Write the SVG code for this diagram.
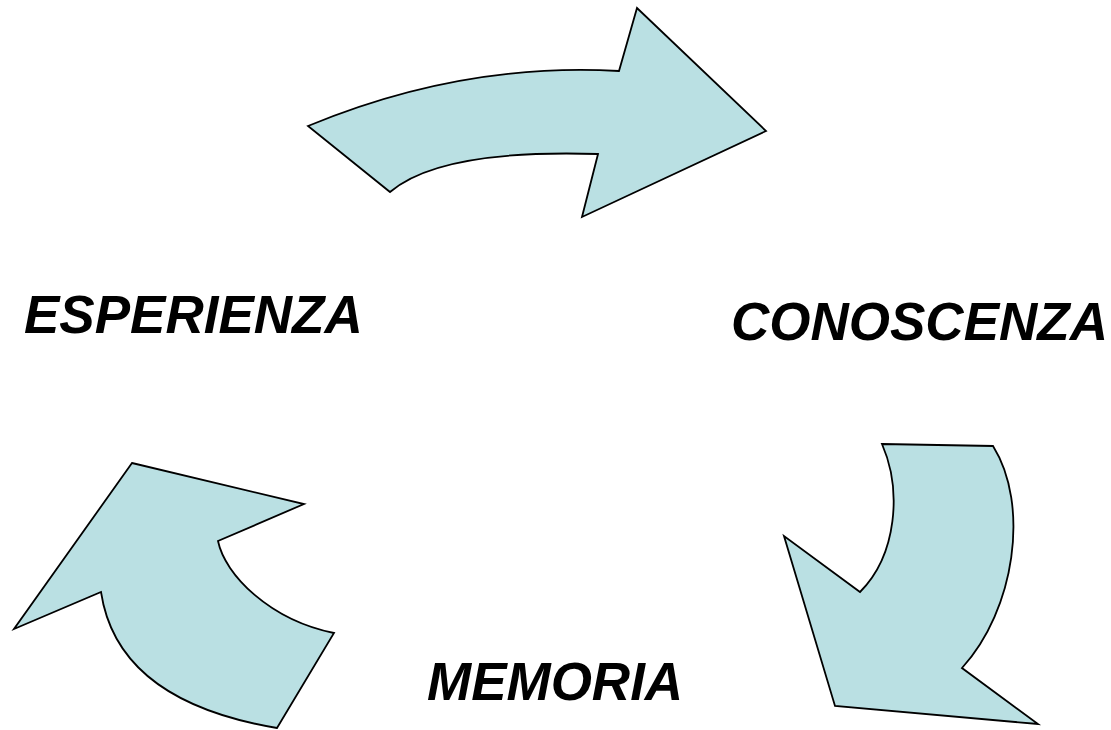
<svg xmlns="http://www.w3.org/2000/svg" width="1111" height="730" viewBox="0 0 1111 730">
<style>
.arrow{fill:#BAE0E3;stroke:#000;stroke-width:1.8;stroke-linejoin:miter}
.lbl{font-family:"Liberation Sans",Arial,sans-serif;font-weight:bold;font-style:italic;font-size:53px;fill:#000}
</style>
<rect width="1111" height="730" fill="#fff"/>
<g id="connectors">
<path id="arrow-top" class="arrow" d="M308,126 Q462,62 619,71 L637,8 L766,131 L582,217 L598,154 Q440,149 390,192 Z"/>
<path id="arrow-right" class="arrow" d="M882,444 L993,446 C1030,505 1015,610 962,668 L1038,724 L835,706 L784,536 L860,592 C897,555 902,490 882,444 Z"/>
<path id="arrow-left" class="arrow" d="M132,463 L304,504 L218,541 C225,575 270,620 334,633 L277,728 C170,710 112,665 101,592 L14,629 Z"/>
</g>
<g id="node-esperienza"><text class="lbl" x="24" y="333">ESPERIENZA</text></g>
<g id="node-conoscenza"><text class="lbl" x="731" y="340">CONOSCENZA</text></g>
<g id="node-memoria"><text class="lbl" x="427" y="700">MEMORIA</text></g>
</svg>
